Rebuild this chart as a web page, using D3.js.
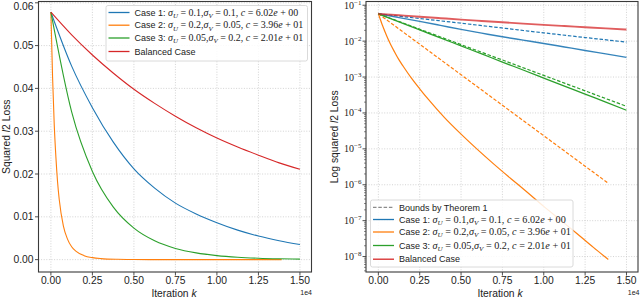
<!DOCTYPE html>
<html><head><meta charset="utf-8">
<script src="https://cdn.jsdelivr.net/npm/d3@7"></script>
<style>body{margin:0;background:#fff} svg{display:block} text{white-space:pre}</style>
</head><body><svg id="c" width="640" height="298"></svg>
<script>
// ---------- data ----------
const kSolid   = [0,1250,2500,3750,5000,6250,7500,8750,10000,11250,12500,13750,15000];
const balanced = [0.0578,0.0525,0.0478,0.0436,0.0398,0.0365,0.0335,0.0308,0.0284,0.0263,0.0244,0.0226,0.0211];
const case1    = [0.0578,0.0452,0.0355,0.0275,0.0212,0.0167,0.0132,0.01067,0.00863,0.00689,0.0055,0.00441,0.00353];
const case3    = [0.0578,0.0345,0.0206,0.01233,0.00736,0.0044,0.00262,0.00157,0.000938,0.00056,0.000334,0.0002,0.000119];
const kCase2   = [0,100,200,300,400,500,750,1000,1250,1500,2000,2500,3000,4000,5000,6000,7000,8000,9000,10000,11000,12000,13000,13900];
const case2    = [5.78e-2,4.27e-2,3.16e-2,2.40e-2,1.82e-2,1.41e-2,7.9e-3,4.8e-3,3.0e-3,2.0e-3,9.3e-4,4.7e-4,2.45e-4,7.4e-5,2.57e-5,9.5e-6,3.7e-6,1.5e-6,6.2e-7,2.5e-7,1.05e-7,4.4e-8,1.8e-8,8.3e-9];
const kBound   = [0,2500,5000,7500,10000,12500,15000];
const bound1   = [5.78e-2,4.27e-2,3.16e-2,2.32e-2,1.70e-2,1.26e-2,9.4e-3];
const bound3   = [5.78e-2,2.15e-2,8.0e-3,2.98e-3,1.11e-3,4.13e-4,1.53e-4];
const kBound2  = [0,2500,5000,7500,10000,12500,13900];
const bound2   = [5.78e-2,8.2e-3,1.16e-3,1.64e-4,2.32e-5,3.29e-6,1.1e-6];

const xTicks      = [0,2500,5000,7500,10000,12500,15000];
const xTickLabels = ["0.00","0.25","0.50","0.75","1.00","1.25","1.50"];
const yTicksL     = [0,0.01,0.02,0.03,0.04,0.05,0.06];
const yTickLabelsL= ["0.00","0.01","0.02","0.03","0.04","0.05","0.06"];
const yTicksR     = [1e-8,1e-7,1e-6,1e-5,1e-4,1e-3,1e-2,1e-1];
const yTickExpR   = ["−8","−7","−6","−5","−4","−3","−2","−1"];

const C = {blue:"#1f77b4", orange:"#ff7f0e", green:"#2ca02c", red:"#d62728", gray:"#8c8c8c"};

const legendCases = [
  {color:C.blue, segs:[["s","Case 1: "],["i","σ"],["b","U"],["r"," = 0.1,"],["i","σ"],["b","V"],["r"," = 0.1, "],["i","c"],["r"," = 6.02"],["i","e"],["r"," + 00"]]},
  {color:C.orange, segs:[["s","Case 2: "],["i","σ"],["b","U"],["r"," = 0.2,"],["i","σ"],["b","V"],["r"," = 0.05, "],["i","c"],["r"," = 3.96"],["i","e"],["r"," + 01"]]},
  {color:C.green, segs:[["s","Case 3: "],["i","σ"],["b","U"],["r"," = 0.05,"],["i","σ"],["b","V"],["r"," = 0.2, "],["i","c"],["r"," = 2.01"],["i","e"],["r"," + 01"]]},
  {color:C.red, segs:[["s","Balanced Case"]]}
];
const boundLegend = {color:C.gray, dash:true, segs:[["s","Bounds by Theorem 1"]]};

// ---------- drawing ----------
const svg = d3.select("#c");
const SANS = "'Liberation Sans', Arial, sans-serif";
const SERIF = "'Liberation Serif', 'DejaVu Serif', serif";
const FS = 10.3;

function pts(ks, vs){ return ks.map((k,i)=>[k, vs[i]]); }

function grid(g, x, y, L, R, T, B, xt, yt){
  g.selectAll(null).data(xt).join("line")
    .attr("x1",d=>x(d)).attr("x2",d=>x(d)).attr("y1",T).attr("y2",B)
    .attr("stroke","#c8c8c8").attr("stroke-width",0.8).attr("stroke-dasharray","1,1.6");
  g.selectAll(null).data(yt).join("line")
    .attr("x1",L).attr("x2",R).attr("y1",d=>y(d)).attr("y2",d=>y(d))
    .attr("stroke","#c8c8c8").attr("stroke-width",0.8).attr("stroke-dasharray","1,1.6");
}
function spines(g, x, y, L, R, T, B, xt, yt){
  g.append("rect").attr("x",L).attr("y",T).attr("width",R-L).attr("height",B-T)
    .attr("fill","none").attr("stroke","#3a3a3a").attr("stroke-width",1.1);
  g.selectAll(null).data(xt).join("line")
    .attr("x1",d=>x(d)).attr("x2",d=>x(d)).attr("y1",B).attr("y2",B+3.5)
    .attr("stroke","#3a3a3a").attr("stroke-width",0.9);
  g.selectAll(null).data(yt).join("line")
    .attr("x1",L-3.5).attr("x2",L).attr("y1",d=>y(d)).attr("y2",d=>y(d))
    .attr("stroke","#3a3a3a").attr("stroke-width",0.9);
  g.selectAll(null).data(xt).join("text")
    .attr("x",d=>x(d)).attr("y",B+12.3).attr("text-anchor","middle")
    .attr("font-family",SANS).attr("font-size",FS).attr("fill","#222")
    .text((d,i)=>xTickLabels[i]);
}
function label(g, segs, x, y, fs){
  const t = g.append("text").attr("x",x).attr("y",y).attr("fill","#222");
  let shifted = false;
  segs.forEach(([kind, str])=>{
    const ts = t.append("tspan").text(str).attr("data-k",kind);
    if(kind==="s"){ ts.attr("font-family",SANS).attr("font-size",fs); }
    else if(kind==="si"){ ts.attr("font-family",SANS).attr("font-style","italic").attr("font-size",fs); }
    else if(kind==="i"){ ts.attr("font-family",SERIF).attr("font-style","italic").attr("font-size",fs*1.08); }
    else if(kind==="r"){ ts.attr("font-family",SERIF).attr("font-size",fs*1.08); }
    else if(kind==="b"){ ts.attr("font-family",SERIF).attr("font-style","italic").attr("font-size",fs*0.75); }
    if(kind==="b" && !shifted){ ts.attr("dy",2.2); shifted=true; }
    else if(kind!=="b" && shifted){ ts.attr("dy",-2.2); shifted=false; }
  });
  return t;
}
function legend(g, entries, bx, by, bw, bh, rows, sx, refIdx, targetW){
  g.append("rect").attr("x",bx).attr("y",by).attr("width",bw).attr("height",bh).attr("rx",2)
    .attr("fill","#fff").attr("fill-opacity",0.85).attr("stroke","#d6d6d6").attr("stroke-width",0.9);
  const texts=[];
  entries.forEach((e,i)=>{
    g.append("line").attr("x1",sx).attr("x2",sx+21).attr("y1",rows[i]).attr("y2",rows[i])
      .attr("stroke",e.color).attr("stroke-width",1.3).attr("stroke-dasharray",e.dash?"3.5,1.8":null);
    texts.push(label(g, e.segs, sx+26, rows[i]+3.2, 9));
  });
  // fit only the math part so the widest row matches the reference width
  const tn = texts[refIdx];
  const w = tn.node().getComputedTextLength();
  const wS = tn.select("tspan").node().getComputedTextLength();
  const f = Math.min(1.3, Math.max(0.6, (targetW - wS) / (w - wS)));
  texts.forEach(t=>t.selectAll("tspan").each(function(){
    const s=d3.select(this);
    if(s.attr("data-k")!=="s") s.attr("font-size", (+s.attr("font-size"))*f);
  }));
}
function offsetText(g, x, y){
  g.append("text").attr("x",x).attr("y",y).attr("text-anchor","end")
    .attr("font-family",SANS).attr("font-size",7).attr("fill","#222").text("1e4");
}
function ylabel(g, x, yc, pre){
  const yl = g.append("text").attr("transform",`translate(${x},${yc}) rotate(-90)`)
    .attr("text-anchor","middle").attr("font-family",SANS).attr("font-size",FS).attr("fill","#222");
  yl.append("tspan").text(pre);
  yl.append("tspan").attr("font-style","italic").text("l");
  yl.append("tspan").text("2 Loss");
}

// ===== Left panel =====
{
  const L=38.5, R=311.5, T=1.5, B=272;
  const x = d3.scaleLinear().domain([-747,15697]).range([L,R]);
  const y = d3.scaleLinear().domain([-0.00289,0.0603]).range([B,T]);
  const g = svg.append("g");
  grid(g,x,y,L,R,T,B,xTicks,yTicksL);
  const line = d3.line().x(d=>x(d[0])).y(d=>y(d[1])).curve(d3.curveMonotoneX);
  [[kSolid,case1,C.blue],[kCase2,case2,C.orange],[kSolid,case3,C.green],[kSolid,balanced,C.red]].forEach(([k,v,c])=>{
    g.append("path").attr("d",line(pts(k,v))).attr("fill","none").attr("stroke",c).attr("stroke-width",1.1);
  });
  spines(g,x,y,L,R,T,B,xTicks,yTicksL);
  g.selectAll(null).data(yTicksL).join("text")
    .attr("x",L-5).attr("y",d=>Math.max(y(d)+3.6, 9.6)).attr("text-anchor","end")
    .attr("font-family",SANS).attr("font-size",FS).attr("fill","#222")
    .text((d,i)=>yTickLabelsL[i]);
  label(g,[["s","Iteration "],["si","k"]],174,296.5,FS).attr("text-anchor","middle");
  ylabel(g, 9.5, (T+B)/2, "Squared ");
  offsetText(g,R+0.5,294.5);
  legend(g, legendCases, 106, 5.5, 201.5, 55.5, [12.5,25.2,38,51.5], 108.5, 1, 169);
}

// ===== Right panel =====
{
  const L=366, R=638, T=1.5, B=272;
  const x = d3.scaleLinear().domain([-747,15697]).range([L,R]);
  const y = d3.scaleLog().domain([Math.pow(10,-8.43),Math.pow(10,-0.896)]).range([B,T]);
  const g = svg.append("g");
  grid(g,x,y,L,R,T,B,xTicks,yTicksR);
  const line = d3.line().x(d=>x(d[0])).y(d=>y(d[1])).curve(d3.curveMonotoneX);
  const draw=(k,v,c,dash,w,op)=>g.append("path").attr("d",line(pts(k,v))).attr("fill","none")
    .attr("stroke",c).attr("stroke-width",w).attr("stroke-opacity",op||1).attr("stroke-dasharray",dash?"3.5,1.8":null);
  draw(kSolid,case1,C.blue,false,1.4,0.9);
  draw(kBound,bound1,C.blue,true,1.2);
  draw(kCase2,case2,C.orange,false,1.2);
  draw(kBound2,bound2,C.orange,true,1.2);
  draw(kSolid,case3,C.green,false,1.3);
  draw(kBound,bound3,C.green,true,1.2);
  draw(kSolid,balanced,C.red,false,1.9,0.75);
  spines(g,x,y,L,R,T,B,xTicks,yTicksR);
  const minors=[];
  for(let n=-9;n<=-1;n++) for(let m=2;m<=9;m++){ const v=m*Math.pow(10,n); if(v>y.domain()[0]&&v<y.domain()[1]) minors.push(v); }
  g.selectAll(null).data(minors).join("line")
    .attr("x1",L-2).attr("x2",L).attr("y1",d=>y(d)).attr("y2",d=>y(d))
    .attr("stroke","#3a3a3a").attr("stroke-width",0.6);
  yTicksR.forEach((d,i)=>{
    const t=g.append("text").attr("x",L-4.5).attr("y",y(d)+3.5).attr("text-anchor","end")
      .attr("font-family",SERIF).attr("font-size",10).attr("fill","#222");
    t.append("tspan").text("10");
    t.append("tspan").attr("font-size",7).attr("dy",-4).text(yTickExpR[i]);
  });
  label(g,[["s","Iteration "],["si","k"]],500,296.5,FS).attr("text-anchor","middle");
  ylabel(g, 338, (T+B)/2, "Log squared ");
  offsetText(g,639.5,294.5);
  legend(g, [boundLegend].concat(legendCases), 370.5, 200, 202.5, 67, [207.3,219.5,232,245.5,259.2], 373, 2, 172);
}
</script></body></html>
